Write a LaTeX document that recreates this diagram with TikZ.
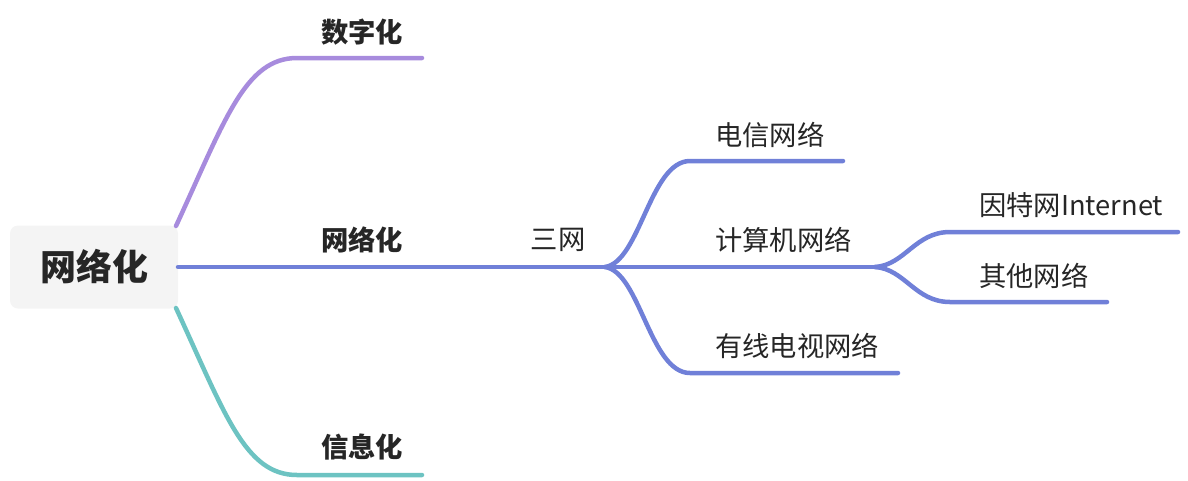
\documentclass[tikz,border=0pt]{standalone}
\usepackage{fontspec}
\newfontfamily\cjk{Noto Sans CJK SC}
\definecolor{purp}{HTML}{A78BDD}
\definecolor{blu}{HTML}{7080D8}
\definecolor{teal2}{HTML}{6DC3C2}
\definecolor{txt}{HTML}{262626}
\definecolor{rootbg}{HTML}{F4F4F4}
\tikzset{
  lbl/.style={font=\cjk\fontsize{27.3}{30}\selectfont, text=txt, inner sep=0pt, anchor=west},
  lblb/.style={lbl, font=\cjk\bfseries\fontsize{27.3}{30}\selectfont},
  br/.style={line width=4.5pt, line cap=round},
}
\begin{document}
\begin{tikzpicture}[x=1pt,y=-1pt]
\useasboundingbox (0,0) rectangle (1188,480);
% root
\node[fill=rootbg, rounded corners=8pt, minimum width=168pt, minimum height=83pt, inner sep=0pt,
      font=\cjk\bfseries\fontsize{36}{40}\selectfont, text=txt] (root) at (94,267) {网络化};
% coordinates
\coordinate (pA) at (176,226);
\coordinate (pB) at (297,58);
\coordinate (pC) at (422,58);
\coordinate (bA) at (178,267);
\coordinate (bB) at (422,267);
\coordinate (bC) at (605,267);
\coordinate (tA) at (176,308);
\coordinate (tB) at (297,475);
\coordinate (tC) at (422,475);
\coordinate (s1a) at (690,161);
\coordinate (s1b) at (843,161);
\coordinate (s2b) at (875,267);
\coordinate (s3a) at (690,373);
\coordinate (s3b) at (898,373);
\coordinate (c1a) at (950,232);
\coordinate (c1b) at (1178,232);
\coordinate (c2a) at (950,302);
\coordinate (c2b) at (1107,302);
% branches
\draw[br, purp] (pA) .. controls (225,120) and (245,58) .. (pB) -- (pC);
\draw[br, teal2] (tA) .. controls (225,414) and (245,475) .. (tB) -- (tC);
\draw[br, blu] (bA) -- (bB);
\draw[br, blu] (bB) -- (bC);
\draw[br, blu] (bC) .. controls (640,262) and (650,161) .. (s1a) -- (s1b);
\draw[br, blu] (bC) -- (s2b);
\draw[br, blu] (bC) .. controls (640,272) and (650,373) .. (s3a) -- (s3b);
\draw[br, blu] (s2b) .. controls (905,265) and (915,232) .. (c1a) -- (c1b);
\draw[br, blu] (s2b) .. controls (905,269) and (915,302) .. (c2a) -- (c2b);
% labels
\node[lblb] (n1) at (321,32) {数字化};
\node[lblb] (n2) at (321,240) {网络化};
\node[lblb] (n3) at (321,447) {信息化};
\node[lbl, anchor=center] (sw) at (558,240) {三网};
\node[lbl] (d1) at (715,135) {电信网络};
\node[lbl] (d2) at (715,240) {计算机网络};
\node[lbl] (d3) at (715,346) {有线电视网络};
\node[lbl] (e1) at (979,205) {因特网Internet};
\node[lbl] (e2) at (979,276) {其他网络};
\end{tikzpicture}
\end{document}
